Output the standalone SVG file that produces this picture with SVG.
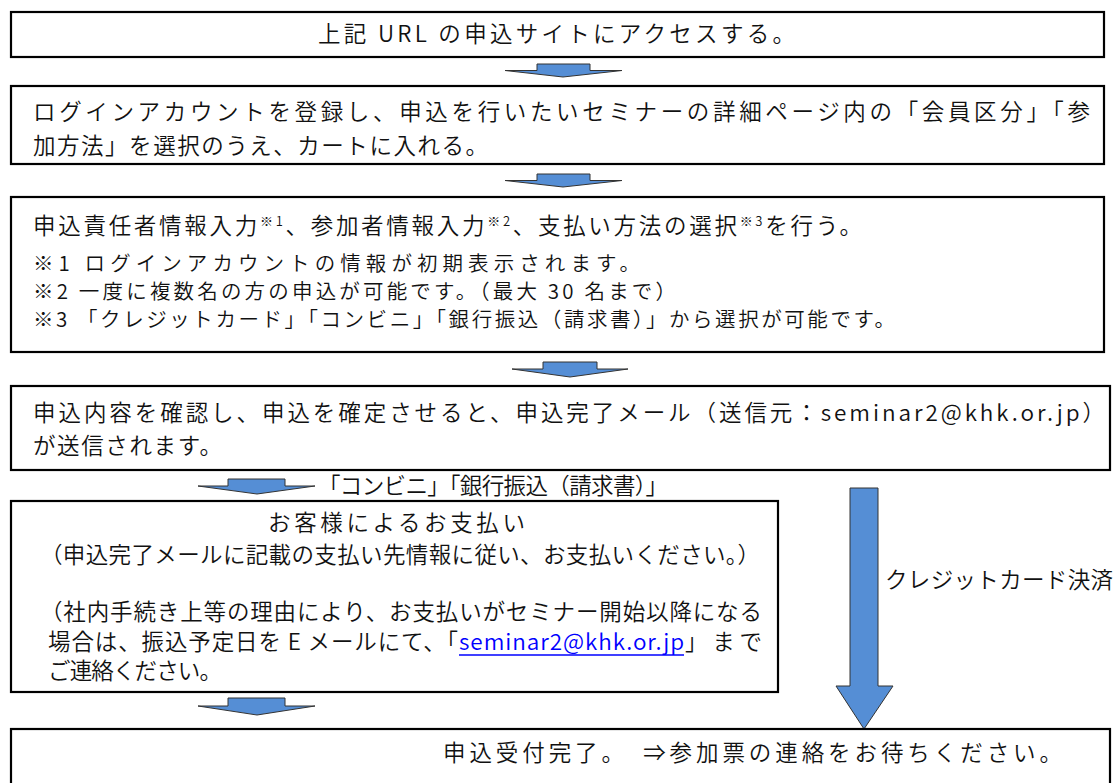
<svg xmlns="http://www.w3.org/2000/svg" width="1120" height="783" viewBox="0 0 1120 783">
<style>
.box{fill:#fff;stroke:#000;stroke-width:2.2}
.t{font-family:"Noto Sans CJK JP","Noto Sans",sans-serif;font-size:22.5px;font-weight:350;fill:#111}
.n{font-size:20.5px}
.sup{font-size:13px}
.link{fill:#0000ff}
.arr{fill:#558ed5;stroke:#333;stroke-width:1}
</style>
<rect width="1120" height="783" fill="#fff"/>
<g id="connectors">
<polygon class="arr" points="537,64 590,64 590,70.5 622,70.5 563,77 505,70.5 537,70.5"/>
<polygon class="arr" points="537,174 590,174 590,180.5 622,180.5 563,187 505,180.5 537,180.5"/>
<polygon class="arr" points="543,362 597,362 597,369 628,369 570,377 512,369 543,369"/>
<polygon class="arr" points="228,479 285,479 285,486 315,486 257,494 198,486 228,486"/>
<polygon class="arr" points="228,698 285,698 285,706 315,706 257,715 198,706 228,706"/>
<polygon class="arr" points="850,488 878,488 878,686 893,686 864,729 836,686 850,686"/>
<text class="t" x="318" y="494" textLength="350" lengthAdjust="spacing">「コンビニ」「銀行振込（請求書）」</text>
<text class="t" x="885" y="588" textLength="228" lengthAdjust="spacing">クレジットカード決済</text>
</g>
<g id="node1">
<rect class="box" x="11" y="12" width="1093" height="45"/>
<text class="t" x="318" y="42" textLength="477" lengthAdjust="spacing">上記 URL の申込サイトにアクセスする。</text>
</g>
<g id="node2">
<rect class="box" x="11" y="86" width="1093" height="78"/>
<text class="t" x="33" y="120" textLength="1057" lengthAdjust="spacing">ログインアカウントを登録し、申込を行いたいセミナーの詳細ページ内の「会員区分」「参</text>
<text class="t" x="33" y="154" textLength="455" lengthAdjust="spacing">加方法」を選択のうえ、カートに入れる。</text>
</g>
<g id="node3">
<rect class="box" x="11" y="197" width="1093" height="155"/>
<text class="t" x="33" y="234" textLength="829" lengthAdjust="spacing">申込責任者情報入力<tspan class="sup" dy="-8">※1</tspan><tspan dy="8">、参加者情報入力</tspan><tspan class="sup" dy="-8">※2</tspan><tspan dy="8">、支払い方法の選択</tspan><tspan class="sup" dy="-8">※3</tspan><tspan dy="8">を行う。</tspan></text>
<text class="t n" x="33" y="271" textLength="607" lengthAdjust="spacing">※1 ログインアカウントの情報が初期表示されます。</text>
<text class="t n" x="33" y="299" textLength="643" lengthAdjust="spacing">※2 一度に複数名の方の申込が可能です。（最大 30 名まで）</text>
<text class="t n" x="33" y="327" textLength="862" lengthAdjust="spacing">※3 「クレジットカード」「コンビニ」「銀行振込（請求書）」から選択が可能です。</text>
</g>
<g id="node4">
<rect class="box" x="11" y="386" width="1099" height="84"/>
<text class="t" x="33" y="421" textLength="1072" lengthAdjust="spacing">申込内容を確認し、申込を確定させると、申込完了メール（送信元：seminar2@khk.or.jp）</text>
<text class="t" x="33" y="454" textLength="189" lengthAdjust="spacing">が送信されます。</text>
</g>
<g id="node5">
<rect class="box" x="11" y="501" width="767" height="191"/>
<text class="t" x="268" y="531" textLength="257" lengthAdjust="spacing">お客様によるお支払い</text>
<text class="t" x="40" y="563" textLength="720" lengthAdjust="spacing">（申込完了メールに記載の支払い先情報に従い、お支払いください。）</text>
<text class="t" x="40" y="620" textLength="722" lengthAdjust="spacing">（社内手続き上等の理由により、お支払いがセミナー開始以降になる</text>
<text class="t" x="48" y="650" textLength="410" lengthAdjust="spacing">場合は、振込予定日を E メールにて、「</text>
<text class="t link" x="459" y="650" textLength="225" lengthAdjust="spacing">seminar2@khk.or.jp</text>
<line x1="459" y1="655" x2="684" y2="655" stroke="#0000ff" stroke-width="1.5"/>
<text class="t" x="685" y="650" textLength="77" lengthAdjust="spacing">」まで</text>
<text class="t" x="48" y="679" textLength="174" lengthAdjust="spacing">ご連絡ください。</text>
</g>
<g id="node6">
<rect class="box" x="11" y="729" width="1099" height="80"/>
<text class="t" x="443" y="761" textLength="619" lengthAdjust="spacing">申込受付完了。　⇒参加票の連絡をお待ちください。</text>
</g>
</svg>
